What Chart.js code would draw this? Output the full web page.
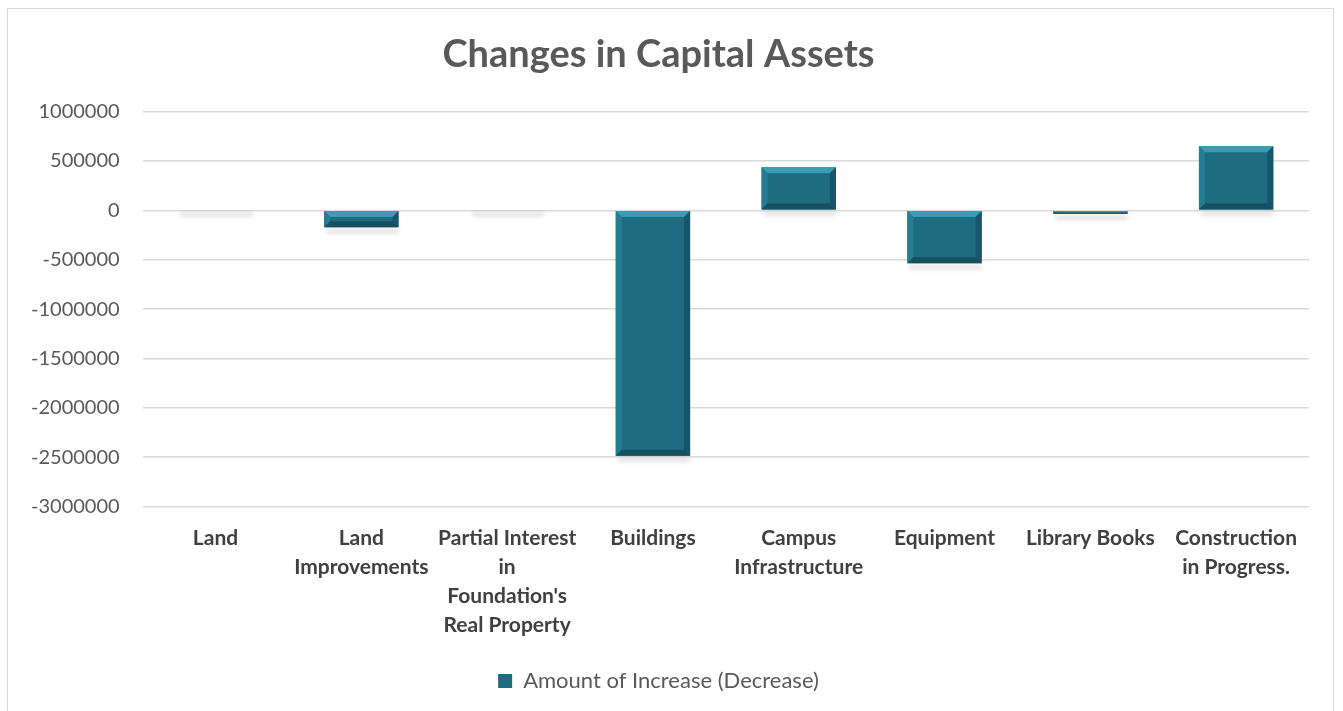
<!DOCTYPE html>
<html>
<head>
<meta charset="utf-8">
<title>Changes in Capital Assets</title>
<script src="https://cdn.jsdelivr.net/npm/chart.js@4.4.1/dist/chart.umd.min.js"></script>
<style>
  html, body { margin: 0; padding: 0; background: #fff; }
  .frame {
    position: absolute; left: 7px; top: 8px; width: 1327px; height: 710px;
    border: 1px solid #d9d9d9; box-sizing: border-box;
  }
  .wrap { position: absolute; left: 0; top: 0; width: 1343px; height: 711px; }
</style>
</head>
<body>
<div class="frame"></div>
<div class="wrap"><canvas id="assetsChart" width="1343" height="711"></canvas></div>
<script>
  var categories = [
    "Land",
    ["Land", "Improvements"],
    ["Partial Interest", "in", "Foundation's", "Real Property"],
    "Buildings",
    ["Campus", "Infrastructure"],
    "Equipment",
    "Library Books",
    ["Construction", "in Progress."]
  ];
  var amounts = [0, -170000, 0, -2485000, 436000, -537000, -35000, 650000];
  var seriesName = "Amount of Increase (Decrease)";
  var yMin = -3000000;
  var yMax = 1000000;
  var yStep = 500000;

  var barColor = "#1e6c80";
  var fontFace = "Lato, 'Open Sans', sans-serif";

  // soft grey shadow under every bar (also shows for the zero ones)
  var barShadow = {
    id: "barShadow",
    beforeDatasetsDraw: function(chart) {
      var ctx = chart.ctx;
      var meta = chart.getDatasetMeta(0);
      ctx.save();
      ctx.filter = "blur(2px)";
      meta.data.forEach(function(bar) {
        var bottom = Math.max(bar.y, bar.base);
        var left = bar.x - bar.width / 2;
        ctx.fillStyle = "rgba(0,0,0,0.13)";
        ctx.fillRect(left + 2, bottom + 2, bar.width - 2, 4);
      });
      ctx.restore();
    },
    afterDatasetsDraw: function(chart) {
      var ctx = chart.ctx;
      var meta = chart.getDatasetMeta(0);
      ctx.save();
      meta.data.forEach(function(bar) {
        var top = Math.min(bar.y, bar.base);
        var h = Math.abs(bar.base - bar.y);
        if (h < 1) return;
        var left = bar.x - bar.width / 2;
        var right = bar.x + bar.width / 2;
        var b = Math.min(6, h / 2);
        // lit top bevel
        ctx.fillStyle = "#3a9db6";
        ctx.beginPath();
        ctx.moveTo(left, top);
        ctx.lineTo(right, top);
        ctx.lineTo(right - b, top + b);
        ctx.lineTo(left + b, top + b);
        ctx.closePath();
        ctx.fill();
        // side bevels
        ctx.fillStyle = "#257d92";
        ctx.beginPath();
        ctx.moveTo(left, top);
        ctx.lineTo(left + b, top + b);
        ctx.lineTo(left + b, top + h - b);
        ctx.lineTo(left, top + h);
        ctx.closePath();
        ctx.fill();
        ctx.fillStyle = "#17566a";
        ctx.beginPath();
        ctx.moveTo(right, top);
        ctx.lineTo(right - b, top + b);
        ctx.lineTo(right - b, top + h - b);
        ctx.lineTo(right, top + h);
        ctx.closePath();
        ctx.fill();
        // darker bottom bevel
        ctx.fillStyle = "#164f60";
        ctx.beginPath();
        ctx.moveTo(left, top + h);
        ctx.lineTo(right, top + h);
        ctx.lineTo(right - b, top + h - b);
        ctx.lineTo(left + b, top + h - b);
        ctx.closePath();
        ctx.fill();
      });
      ctx.restore();
    }
  };

  var ctx = document.getElementById("assetsChart").getContext("2d");
  new Chart(ctx, {
    type: "bar",
    data: {
      labels: categories,
      datasets: [{
        label: seriesName,
        data: amounts,
        backgroundColor: barColor,
        borderWidth: 0,
        categoryPercentage: 1,
        barPercentage: 0.51
      }]
    },
    options: {
      responsive: false,
      animation: false,
      layout: { padding: { left: 8, right: 34, top: 10, bottom: 9 } },
      plugins: {
        title: {
          display: true,
          text: "Changes in Capital Assets",
          color: "#595959",
          font: { family: fontFace, size: 38, weight: "bold" },
          padding: { top: 22, bottom: 34 }
        },
        legend: {
          position: "bottom",
          labels: {
            color: "#595959",
            font: { family: fontFace, size: 22 },
            boxWidth: 14,
            boxHeight: 14,
            padding: 21.5
          }
        },
        tooltip: { enabled: false }
      },
      scales: {
        x: {
          grid: { display: false },
          border: { display: false },
          ticks: {
            color: "#404040",
            font: { family: fontFace, size: 21, weight: "bold", lineHeight: 1.38 },
            maxRotation: 0,
            autoSkip: false,
            padding: 9
          }
        },
        y: {
          min: yMin,
          max: yMax,
          grid: { color: "#d9d9d9", drawTicks: false, lineWidth: 1.5 },
          border: { display: false },
          ticks: {
            stepSize: yStep,
            color: "#595959",
            font: { family: fontFace, size: 20 },
            padding: 23,
            callback: function(value) { return String(value); }
          }
        }
      }
    },
    plugins: [barShadow]
  });
</script>
</body>
</html>
